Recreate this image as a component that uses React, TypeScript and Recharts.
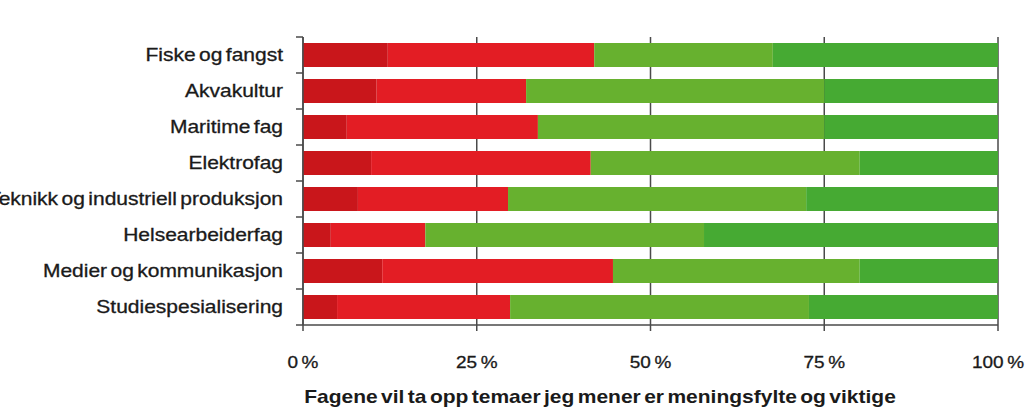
import { BarChart, Bar, XAxis, YAxis, CartesianGrid } from 'recharts';

const categories = [
    'Fiske og fangst',
    'Akvakultur',
    'Maritime fag',
    'Elektrofag',
    'Teknikk og industriell produksjon',
    'Helsearbeiderfag',
    'Medier og kommunikasjon',
    'Studiespesialisering',
];

// shares in percent, one entry per category
const heltUenig = [12.2, 10.6, 6.3, 9.8, 7.9, 4.0, 11.4, 4.9];
const uenig = [29.7, 21.5, 27.5, 31.6, 21.6, 13.6, 33.2, 24.9];
const enig = [25.7, 42.9, 41.2, 38.7, 42.9, 40.1, 35.5, 43.0];
const heltEnig = [32.4, 25.0, 25.0, 19.9, 27.6, 42.3, 19.9, 27.2];

const xTicks = [0, 25, 50, 75, 100];

const data = categories.map((name, i) => ({
    name,
    heltUenig: heltUenig[i],
    uenig: uenig[i],
    enig: enig[i],
    heltEnig: heltEnig[i],
}));

const AXIS = '#4a4a4a';
const FONT = 'Liberation Sans, Arial, sans-serif';
const HALF_BAND = 18;

function CategoryTick(props: any) {
    const { x, y, payload, index } = props;
    const last = index === categories.length - 1;
    // x arrives a few px left of the axis line
    const ax = x + 8;
    return (
        <g>
            <line x1={ax - 7} x2={ax} y1={y - HALF_BAND} y2={y - HALF_BAND} stroke={AXIS} strokeWidth={1.5} />
            {last && <line x1={ax - 7} x2={ax} y1={y + HALF_BAND} y2={y + HALF_BAND} stroke={AXIS} strokeWidth={1.5} />}
            <text
                transform={`translate(${ax - 20},${y}) scale(1.2,1)`}
                textAnchor="end"
                dominantBaseline="central"
                fontSize={17.5}
                fontFamily={FONT}
                wordSpacing={-2}
                stroke="#1a1a1a"
                strokeWidth={0.3}
                fill="#1a1a1a"
            >
                {payload.value}
            </text>
        </g>
    );
}

function PercentTick(props: any) {
    const { x, y, payload } = props;
    return (
        <text
            transform={`translate(${x},${y + 29}) scale(1.15,1)`}
            textAnchor="middle"
            dominantBaseline="central"
            fontSize={16.5}
            fontFamily={FONT}
            wordSpacing={-1.5}
            stroke="#1a1a1a"
            strokeWidth={0.3}
            fill="#1a1a1a"
        >
            {`${payload.value} %`}
        </text>
    );
}

function TitleLabel(props: any) {
    const { viewBox } = props;
    return (
        <text
            transform={`translate(${viewBox.x + 297},${viewBox.y + 72}) scale(1.2,1)`}
            textAnchor="middle"
            dominantBaseline="central"
            fontSize={17.5}
            fontWeight="bold"
            fontFamily={FONT}
            wordSpacing={-2}
            fill="#1a1a1a"
        >
            Fagene vil ta opp temaer jeg mener er meningsfylte og viktige
        </text>
    );
}

export default function App() {
    return (
        <div style={{ position: 'absolute', left: 0, top: 0, width: 1032, height: 412, background: '#fff' }}>
            <BarChart
                width={1032}
                height={412}
                data={data}
                layout="vertical"
                margin={{ top: 37, right: 34, bottom: 0, left: 0 }}
                barSize={24}
            >
                <CartesianGrid horizontal={false} vertical stroke={AXIS} strokeWidth={1.5} />
                <XAxis
                    type="number"
                    domain={[0, 100]}
                    ticks={xTicks}
                    height={87}
                    axisLine={{ stroke: AXIS, strokeWidth: 1.5 }}
                    tickLine={{ stroke: AXIS, strokeWidth: 1.5 }}
                    tickSize={6}
                    tick={<PercentTick />}
                    interval={0}
                    label={<TitleLabel />}
                />
                <YAxis
                    type="category"
                    dataKey="name"
                    width={303}
                    axisLine={{ stroke: AXIS, strokeWidth: 1.5 }}
                    tickLine={false}
                    tick={<CategoryTick />}
                    interval={0}
                />
                <Bar dataKey="heltUenig" stackId="a" fill="#c9161b" isAnimationActive={false} />
                <Bar dataKey="uenig" stackId="a" fill="#e31d24" isAnimationActive={false} />
                <Bar dataKey="enig" stackId="a" fill="#67b12f" isAnimationActive={false} />
                <Bar dataKey="heltEnig" stackId="a" fill="#46aa33" isAnimationActive={false} />
            </BarChart>
        </div>
    );
}
